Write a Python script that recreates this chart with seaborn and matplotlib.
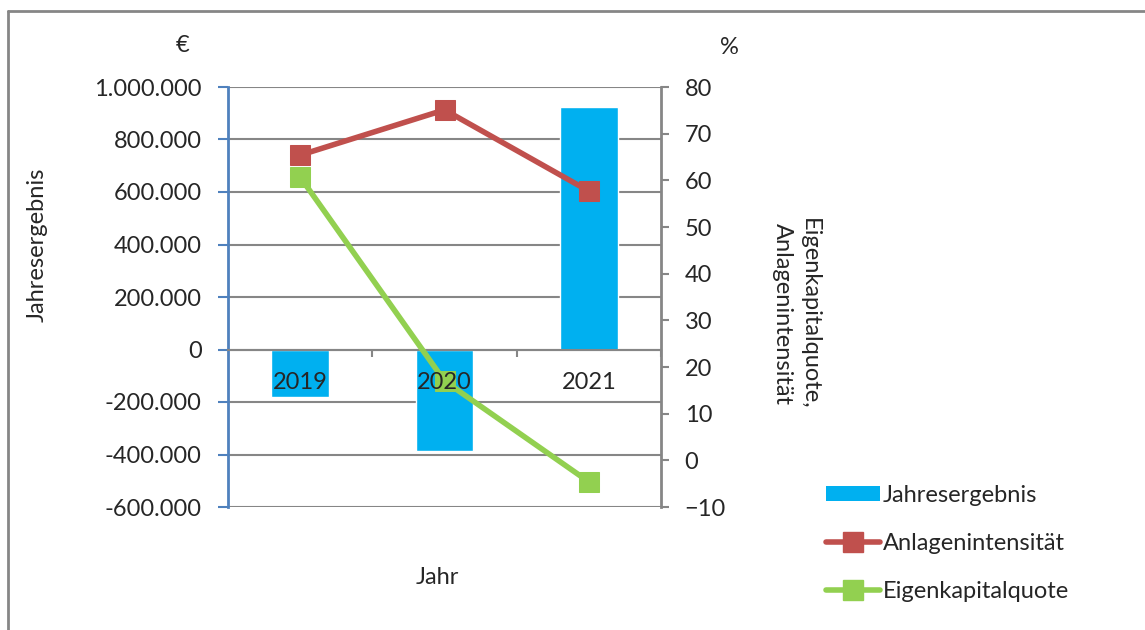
import matplotlib
matplotlib.use("Agg")
import matplotlib.pyplot as plt
import matplotlib.ticker as mticker
import matplotlib.transforms as mtransforms
from matplotlib.lines import Line2D
from matplotlib.patches import Patch
import seaborn as sns
import pandas as pd

# data
years = ["2019", "2020", "2021"]
jahresergebnis = [-180000, -385000, 925000]
anlagenintensitaet = [65.4, 75.1, 57.7]
eigenkapitalquote = [60.7, 17.0, -4.6]

bar_color = "#00B0F0"
red = "#C0504D"
green = "#92D050"
axis_blue = "#4F81BD"
grey = "#868686"
fs = 17

sns.set_theme(style="white")
plt.rcParams["font.family"] = ["Lato", "DejaVu Sans"]
plt.rcParams["font.size"] = fs

df = pd.DataFrame({"Jahr": years, "Jahresergebnis": jahresergebnis,
                   "Anlagenintensität": anlagenintensitaet,
                   "Eigenkapitalquote": eigenkapitalquote})
df["pos"] = range(len(years))

fig = plt.figure(figsize=(11.45, 6.30), dpi=100)
ax = fig.add_axes([228 / 1145, 1 - 507 / 630, (661 - 228) / 1145, (507 - 87) / 630])

sns.barplot(data=df, x="Jahr", y="Jahresergebnis", color=bar_color, saturation=1,
            width=0.4, ax=ax, zorder=2)
ax.set_xlim(-0.5, 2.5)
ax.set_ylim(-600000, 1000000)
ax.yaxis.set_major_locator(mticker.MultipleLocator(200000))
ax.yaxis.set_major_formatter(mticker.FuncFormatter(lambda v, p: f"{v:,.0f}".replace(",", ".")))
ax.grid(axis="y", color=grey, linewidth=1.5)
ax.set_axisbelow(True)
ax.set_xlabel("")
ax.set_ylabel("")

for s in ["top", "right"]:
    ax.spines[s].set_visible(False)
ax.spines["left"].set_color(axis_blue)
ax.spines["left"].set_linewidth(2)
ax.spines["bottom"].set_position(("data", 0))
ax.spines["bottom"].set_color(grey)
ax.spines["bottom"].set_linewidth(1.5)
ax.tick_params(axis="y", direction="out", length=7, width=1.5, color=axis_blue,
               pad=12, labelsize=fs, left=True)
ax.tick_params(axis="x", which="major", length=0, labelbottom=False)
ax.xaxis.set_minor_locator(mticker.FixedLocator([0.5, 1.5, 2.5]))
ax.tick_params(axis="x", which="minor", direction="out", length=5, width=1.5, color=grey, bottom=True)

ax2 = ax.twinx()
sns.lineplot(data=df, x="pos", y="Anlagenintensität", color=red, linewidth=4,
             marker="s", markersize=14, markeredgecolor=red, ax=ax2, legend=False)
sns.lineplot(data=df, x="pos", y="Eigenkapitalquote", color=green, linewidth=4,
             marker="s", markersize=14, markeredgecolor=green, ax=ax2, legend=False)
ax2.set_ylim(-10, 80)
ax2.yaxis.set_major_locator(mticker.MultipleLocator(10))
ax2.set_ylabel("")
ax2.set_xlabel("")
for s in ["top", "left", "bottom"]:
    ax2.spines[s].set_visible(False)
ax2.spines["right"].set_color(grey)
ax2.spines["right"].set_linewidth(2)
ax2.tick_params(axis="y", direction="out", length=6, width=1.5, color=grey,
                pad=11, labelsize=fs, right=True)

# category labels sit just under the zero line, on top of bars and lines
offset = mtransforms.ScaledTranslation(0, -33 / 100, fig.dpi_scale_trans)
trans = mtransforms.blended_transform_factory(ax2.transData, ax.transData) + offset
for i, y in enumerate(years):
    ax2.text(i, 0, y, transform=trans, ha="center", va="center", fontsize=fs, zorder=5)

# axis titles and units
fig.text(37 / 1145, 1 - 245 / 630, "Jahresergebnis", rotation=90, ha="center", va="center", fontsize=fs)
fig.text(796 / 1145, 1 - 314 / 630, "Eigenkapitalquote,\nAnlagenintensität", rotation=-90,
         ha="center", va="center", fontsize=fs, linespacing=1.35)
fig.text(183 / 1145, 1 - 45 / 630, "€", ha="center", va="center", fontsize=fs)
fig.text(729 / 1145, 1 - 47 / 630, "%", ha="center", va="center", fontsize=fs)
fig.text(437 / 1145, 1 - 577 / 630, "Jahr", ha="center", va="center", fontsize=fs)

# legend
handles = [Patch(facecolor=bar_color, edgecolor="none"),
           Line2D([], [], color=red, linewidth=4, marker="s", markersize=14),
           Line2D([], [], color=green, linewidth=4, marker="s", markersize=14)]
labels = ["Jahresergebnis", "Anlagenintensität", "Eigenkapitalquote"]
fig.legend(handles, labels, loc="upper left", bbox_to_anchor=(826 / 1145, 1 - 485 / 630),
           frameon=False, fontsize=fs, handlelength=2.3, handleheight=0.6, handletextpad=0.1,
           labelspacing=1.15, borderpad=0, borderaxespad=0)

# outer frame (top and left edges visible in the reference)
fig.add_artist(Line2D([8 / 1145, 8 / 1145], [1 - 11 / 630, 0], color=grey, linewidth=2,
                      transform=fig.transFigure))
fig.add_artist(Line2D([8 / 1145, 1], [1 - 11 / 630, 1 - 11 / 630], color=grey, linewidth=2,
                      transform=fig.transFigure))

fig.savefig("out.png", dpi=100)
